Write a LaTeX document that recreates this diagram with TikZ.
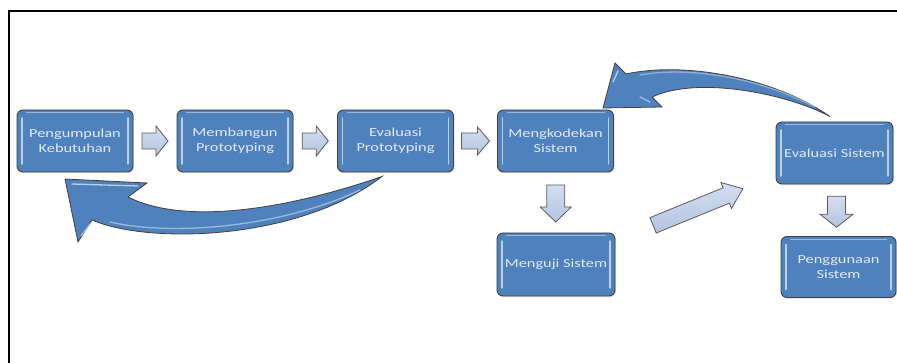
\documentclass[tikz,border=0pt]{standalone}
\usepackage{fontspec}
\setmainfont{Carlito}[FakeStretch=1.33]
\usetikzlibrary{calc,shadows}

\definecolor{boxblue}{HTML}{4F81BD}
\definecolor{boxedge}{HTML}{404040}
\definecolor{boxtext}{HTML}{E2EAF5}
\definecolor{arrowtop}{HTML}{D3DEEF}
\definecolor{arrowbot}{HTML}{B3C5E1}
\definecolor{arrowedge}{HTML}{5A5A5A}
\definecolor{gloss}{HTML}{BCD0EC}

\tikzset{
  % process step box with glossy inner edges
  stepbox/.style={
    rectangle, rounded corners=6pt, draw=boxedge, line width=0.9pt,
    fill=boxblue, text=boxtext, align=center,
    font=\fontsize{12.3}{15}\selectfont,
    minimum width=116pt, minimum height=62pt, inner sep=0pt,
    drop shadow={opacity=0.25, shadow xshift=1pt, shadow yshift=-1.2pt},
    path picture={
      \draw[gloss, line width=1.4pt, line cap=round]
        ([xshift=5pt,yshift=-8pt]path picture bounding box.north west) --
        ([xshift=5pt,yshift=8pt]path picture bounding box.south west);
      \draw[gloss, line width=1.4pt, line cap=round]
        ([xshift=-5pt,yshift=-8pt]path picture bounding box.north east) --
        ([xshift=-5pt,yshift=8pt]path picture bounding box.south east);
      \draw[gloss!70!boxblue, line width=0.9pt]
        ([xshift=9pt,yshift=-2.5pt]path picture bounding box.north west) --
        ([xshift=-9pt,yshift=-2.5pt]path picture bounding box.north east);
    }},
  % small block arrow between steps
  smallarrow/.style={draw=arrowedge, line width=0.8pt, line join=miter,
    top color=arrowtop, bottom color=arrowbot},
  % large curved feedback arrow
  bigarrow/.style={draw=boxedge, line width=0.8pt, line join=miter, fill=boxblue},
  bigshine/.style={draw=gloss, line width=1.3pt, line cap=round},
  % block arrow centred on its position: length, half shaft, half head, head length
  pics/blockarrow/.style n args={4}{code={
    \path[smallarrow]
      ({-#1/2},-#2) -- ({#1/2-#4},-#2) -- ({#1/2-#4},-#3) -- ({#1/2},0) --
      ({#1/2-#4},#3) -- ({#1/2-#4},#2) -- ({-#1/2},#2) -- cycle;
  }},
}

\begin{document}
\begin{tikzpicture}[x=1pt,y=-1pt]
\useasboundingbox (0,0) rectangle (897,363);

% frame
\draw[line width=1.5pt] (9,363) -- (9,11) -- (897,11);

% process steps
\node[stepbox] (b1) at (75,141)    {Pengumpulan\\Kebutuhan};
\node[stepbox] (b2) at (235,141)   {Membangun\\Prototyping};
\node[stepbox] (b3) at (395.5,141) {Evaluasi\\Prototyping};
\node[stepbox] (b4) at (555.5,141) {Mengkodekan\\Sistem};
\node[stepbox, minimum width=118pt, minimum height=63pt] (b5) at (556,264.5) {Menguji Sistem};
\node[stepbox, minimum width=117pt] (b6) at (834.5,153) {Evaluasi Sistem};
\node[stepbox, minimum width=115pt, minimum height=61pt] (b7) at (838.5,267) {Penggunaan\\Sistem};

% forward block arrows
\pic at ($(b1.east)!0.5!(b2.west)$) {blockarrow={26}{8}{15}{12}};
\pic at ($(b2.east)!0.5!(b3.west)$) {blockarrow={26}{8}{15}{12}};
\pic at ($(b3.east)!0.5!(b4.west)$) {blockarrow={28}{8}{14}{12}};
\pic[rotate=-90] at ($(b4.south)!0.5!(b5.north)+(0,1)$) {blockarrow={37}{9}{15.5}{15}};
\pic[rotate=-90] at ($(b6.south)!0.5!(b7.north)+(0,1.5)$) {blockarrow={31}{9}{16.5}{13}};
\coordinate (diag) at (698,207);
\pic[rotate=22.2] at (diag) {blockarrow={97}{8.3}{14}{18}};

% feedback: prototype evaluation back to requirements gathering
\coordinate (tailA) at ($(b3.south)+(-13.5,4)$);
\path[bigarrow] (65,179) -- (147,183) -- (128,197)
  .. controls (190,228) and (300,205) .. (tailA)
  .. controls (300,240) and (150,245) .. (92,220) -- (78,242) -- cycle;
\draw[bigshine] (72,184) -- (138,186);
\draw[bigshine, opacity=0.8] (90,224) -- (81,236);
\draw[bigshine, opacity=0.7] (110,222) .. controls (170,236) and (280,228) .. (360,190);

% feedback: system evaluation back to coding
\coordinate (tailB) at ($(b6.north)+(-4.5,-5)$);
\path[bigarrow] (603,108) -- (615,63) -- (626,74)
  .. controls (680,62) and (770,75) .. (tailB)
  .. controls (790,95) and (700,75) .. (652,97) -- (662,107) -- cycle;
\draw[bigshine] (618,71) -- (613,82);
\draw[bigshine, opacity=0.8] (640,97) -- (650,102);
\draw[bigshine, opacity=0.6] (640,75) .. controls (690,66) and (760,78) .. (815,107);

\end{tikzpicture}
\end{document}
